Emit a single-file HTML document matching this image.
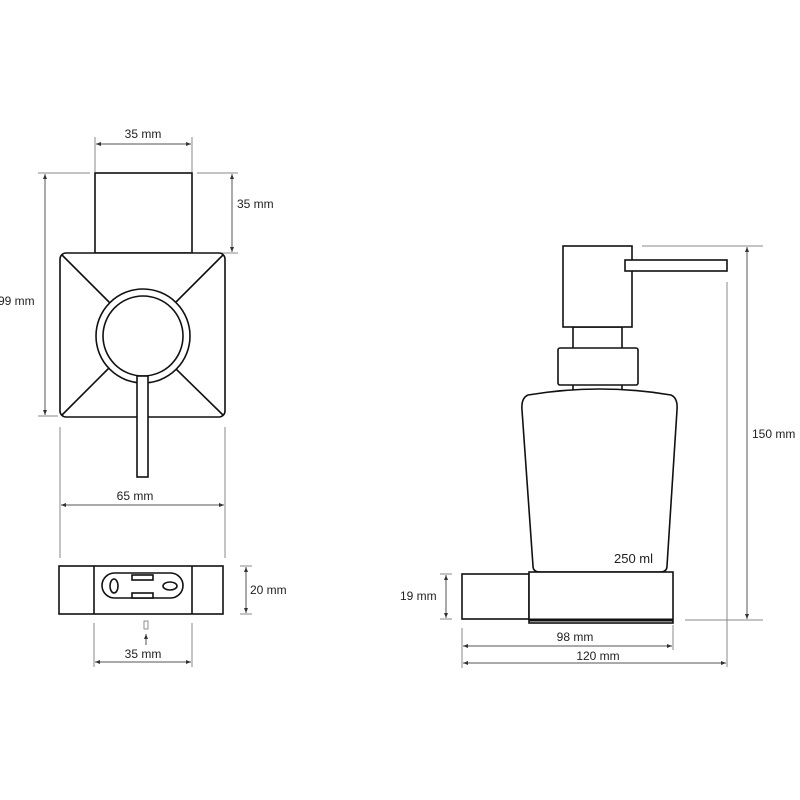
<!DOCTYPE html>
<html><head><style>
html,body{margin:0;padding:0;background:#fff;}
svg{display:block;}
text{font-family:"Liberation Sans",sans-serif;font-size:12px;fill:#222;}
</style></head><body>
<svg width="800" height="800" viewBox="0 0 800 800" xmlns="http://www.w3.org/2000/svg">
<defs>
<marker id="a" viewBox="0 0 10 10" refX="10" refY="5" markerWidth="5" markerHeight="5" orient="auto-start-reverse"><path d="M0,1 L10,5 L0,9 z" fill="#333"/></marker>
</defs>
<g stroke="#888" stroke-width="1" fill="none">
<!-- left top dims -->
<line x1="95" y1="137" x2="95" y2="172"/><line x1="192" y1="137" x2="192" y2="172"/>
<line x1="96" y1="144" x2="191" y2="144" stroke="#555" marker-start="url(#a)" marker-end="url(#a)"/>
<line x1="197" y1="173" x2="238" y2="173"/><line x1="197" y1="253" x2="238" y2="253"/>
<line x1="232" y1="174" x2="232" y2="252" stroke="#555" marker-start="url(#a)" marker-end="url(#a)"/>
<line x1="38" y1="173" x2="90" y2="173"/><line x1="38" y1="416" x2="58" y2="416"/>
<line x1="45" y1="174" x2="45" y2="415" stroke="#555" marker-start="url(#a)" marker-end="url(#a)"/>
<line x1="60" y1="427" x2="60" y2="558"/><line x1="225" y1="427" x2="225" y2="558"/>
<line x1="61" y1="505" x2="224" y2="505" stroke="#555" marker-start="url(#a)" marker-end="url(#a)"/>
<line x1="240" y1="566" x2="252" y2="566"/><line x1="240" y1="614" x2="252" y2="614"/>
<line x1="246" y1="567" x2="246" y2="613" stroke="#555" marker-start="url(#a)" marker-end="url(#a)"/>
<line x1="94" y1="623" x2="94" y2="667"/><line x1="192" y1="623" x2="192" y2="667"/>
<line x1="95" y1="662" x2="191" y2="662" stroke="#555" marker-start="url(#a)" marker-end="url(#a)"/>
<line x1="146" y1="645" x2="146" y2="634" stroke="#555" marker-end="url(#a)"/>
<!-- right dims -->
<line x1="642" y1="246" x2="763" y2="246"/><line x1="685" y1="620" x2="763" y2="620"/>
<line x1="747" y1="247" x2="747" y2="619" stroke="#555" marker-start="url(#a)" marker-end="url(#a)"/>
<line x1="727" y1="282" x2="727" y2="667"/>
<line x1="462" y1="628" x2="462" y2="668"/><line x1="673" y1="625" x2="673" y2="650"/>
<line x1="463" y1="646" x2="672" y2="646" stroke="#555" marker-start="url(#a)" marker-end="url(#a)"/>
<line x1="463" y1="663" x2="726" y2="663" stroke="#555" marker-start="url(#a)" marker-end="url(#a)"/>
<line x1="440" y1="574" x2="452" y2="574"/><line x1="440" y1="619" x2="452" y2="619"/>
<line x1="446" y1="575" x2="446" y2="618" stroke="#555" marker-start="url(#a)" marker-end="url(#a)"/>
</g>
<g stroke="#111" stroke-width="1.6" fill="#fff">
<rect x="95" y="173" width="97" height="80"/>
<rect x="60" y="253" width="165" height="164" rx="6"/>
<line x1="62" y1="255" x2="110" y2="303"/><line x1="223" y1="255" x2="176" y2="302"/>
<line x1="62" y1="415" x2="109" y2="368"/><line x1="223" y1="415" x2="176" y2="369"/>
<circle cx="143" cy="336" r="47"/><circle cx="143" cy="336" r="40"/>
<rect x="137" y="376" width="11" height="101"/>
<rect x="59" y="566" width="164" height="48"/>
<line x1="94" y1="566" x2="94" y2="614"/><line x1="192" y1="566" x2="192" y2="614"/>
<rect x="102" y="573" width="81" height="25" rx="12.5"/>
<ellipse cx="114" cy="586" rx="4" ry="7"/><ellipse cx="170" cy="586" rx="7" ry="4"/>
<rect x="132" y="575" width="21" height="5"/><rect x="132" y="593" width="21" height="5"/>
<rect x="144" y="621" width="4" height="8" stroke-width="0.8" stroke="#777"/>
<!-- dispenser -->
<rect x="573" y="327" width="49" height="30"/>
<rect x="563" y="246" width="69" height="81"/>
<rect x="625" y="260" width="102" height="11"/>
<line x1="573" y1="385" x2="573" y2="390"/><line x1="622" y1="385" x2="622" y2="390"/>
<path d="M528,395 Q600,383 671,395 Q678,398 677,410 L667,566 Q667,572 660,572 L540,572 Q533,572 533,566 L522,410 Q521,398 528,395 Z"/>
<rect x="558" y="348" width="80" height="37" rx="2"/>
<rect x="462" y="574" width="67" height="45"/>
<rect x="529" y="572" width="144" height="51"/>
<line x1="529" y1="620" x2="673" y2="620" stroke-width="3"/>
</g>
<text x="143" y="138" text-anchor="middle">35 mm</text>
<text x="237" y="208">35 mm</text>
<text x="-2" y="305">99 mm</text>
<text x="135" y="500" text-anchor="middle">65 mm</text>
<text x="250" y="594">20 mm</text>
<text x="143" y="658" text-anchor="middle">35 mm</text>
<text x="614" y="563" fill="#444" style="font-size:13px">250 ml</text>
<text x="400" y="600">19 mm</text>
<text x="752" y="438">150 mm</text>
<text x="575" y="641" text-anchor="middle">98 mm</text>
<text x="598" y="660" text-anchor="middle">120 mm</text>
</svg>
</body></html>
